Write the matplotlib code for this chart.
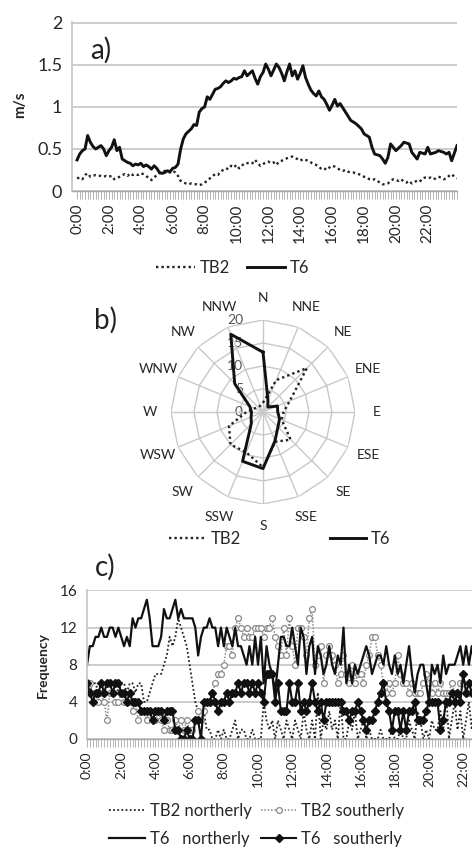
import numpy as np
import matplotlib
matplotlib.use("Agg")
import matplotlib.pyplot as plt
import matplotlib.transforms as mtransforms
from matplotlib.lines import Line2D

plt.rcParams['font.family'] = ['Lato', 'DejaVu Sans']

# ---- data ----
hour_labels = ["0:00", "2:00", "4:00", "6:00", "8:00", "10:00",
               "12:00", "14:00", "16:00", "18:00", "20:00", "22:00"]

# a) mean wind speed, 10 min steps (m/s)
speed_t6 = [
    0.37, 0.44, 0.48, 0.50, 0.66, 0.58, 0.53, 0.50, 0.52, 0.54,
    0.50, 0.42, 0.48, 0.52, 0.61, 0.48, 0.52, 0.38, 0.36, 0.34,
    0.33, 0.30, 0.32, 0.31, 0.33, 0.29, 0.31, 0.29, 0.26, 0.30,
    0.27, 0.22, 0.21, 0.22, 0.24, 0.23, 0.27, 0.28, 0.32, 0.50,
    0.62, 0.68, 0.71, 0.74, 0.79, 0.78, 0.94, 0.98, 1.00, 1.12,
    1.09, 1.15, 1.21, 1.22, 1.24, 1.28, 1.31, 1.29, 1.31, 1.34,
    1.33, 1.35, 1.36, 1.43, 1.37, 1.40, 1.43, 1.34, 1.27, 1.36,
    1.41, 1.51, 1.45, 1.37, 1.44, 1.51, 1.47, 1.40, 1.31, 1.42,
    1.51, 1.37, 1.43, 1.33, 1.40, 1.49, 1.35, 1.27, 1.20, 1.16,
    1.13, 1.19, 1.12, 1.09, 1.03, 0.96, 1.02, 1.09, 1.01, 1.04,
    0.99, 0.94, 0.89, 0.84, 0.82, 0.80, 0.77, 0.74, 0.68, 0.66,
    0.64, 0.52, 0.44, 0.43, 0.42, 0.38, 0.33, 0.40, 0.56, 0.52,
    0.48, 0.51, 0.54, 0.58, 0.57, 0.56, 0.46, 0.42, 0.38, 0.46,
    0.45, 0.44, 0.52, 0.44, 0.45, 0.46, 0.48, 0.47, 0.46, 0.44,
    0.46, 0.36, 0.45, 0.54]
speed_tb2 = [
    0.15, 0.16, 0.14, 0.19, 0.21, 0.17,
    0.18, 0.19, 0.18, 0.18, 0.17, 0.18, 0.17, 0.18, 0.14, 0.15, 0.17,
    0.19, 0.20, 0.18, 0.21, 0.19, 0.20, 0.19, 0.21, 0.20,
    0.18, 0.15, 0.13, 0.16,
    0.19, 0.21, 0.22, 0.24, 0.23, 0.22, 0.24,
    0.22, 0.18, 0.12, 0.10,
    0.09, 0.08, 0.09, 0.08, 0.08, 0.07,
    0.08, 0.10, 0.12,
    0.15, 0.18, 0.20, 0.19, 0.23, 0.25, 0.27, 0.26, 0.30,
    0.28, 0.31, 0.27, 0.30, 0.33, 0.33, 0.34, 0.33, 0.37, 0.33, 0.30,
    0.32, 0.34, 0.35, 0.33, 0.34, 0.31, 0.35, 0.36, 0.37,
    0.39, 0.40, 0.41, 0.39, 0.38, 0.36, 0.38, 0.37, 0.36,
    0.34, 0.32, 0.31, 0.29, 0.26, 0.27, 0.25, 0.28, 0.30,
    0.29, 0.27, 0.25, 0.24, 0.25, 0.23, 0.22, 0.22, 0.21, 0.20,
    0.19, 0.17, 0.16, 0.14, 0.13, 0.14, 0.12, 0.10, 0.08, 0.08,
    0.09, 0.12, 0.14, 0.13, 0.12, 0.14, 0.11, 0.10, 0.12,
    0.09, 0.11, 0.12, 0.11, 0.15, 0.16, 0.15, 0.16, 0.14, 0.15,
    0.17, 0.16, 0.14, 0.15, 0.18, 0.20, 0.17, 0.15]

# b) direction frequency
dirs = ["N", "NNE", "NE", "ENE", "E", "ESE", "SE", "SSE",
        "S", "SSW", "SW", "WSW", "W", "WNW", "NW", "NNW"]
rose_tb2 = [2, 7.5, 13.5, 6.3, 4.5, 4.4, 8.5, 7, 12, 9.5, 10, 8, 3.6, 2, 1.5, 1.5]
rose_t6 = [13, 2.8, 1.5, 3.4, 3.2, 3.9, 4.6, 6.8, 12.3, 11.6, 3.6, 2.8, 2.5, 3.1, 8.7, 18.3]

# c) frequency of northerly / southerly flow
freq_tb2_north = [
    6, 5, 6, 6, 5, 6, 6, 6, 6,
    6, 6, 5, 6, 6, 5, 6, 6,
    5, 6, 6, 4, 4, 5,
    6, 7, 7, 7, 8, 9, 11, 10,
    11, 13, 12, 11, 10, 8, 6, 4,
    3, 2, 3, 1, 1, 0, 0,
    1, 0, 1, 0, 0, 1, 2, 0, 1, 1, 0, 0, 1, 0, 0,
    0, 4, 2, 1, 2, 0, 2, 1, 0, 2,
    1, 0, 2, 1, 0, 3, 1, 0, 2, 0,
    5, 0, 2, 1, 3, 1, 2, 0, 4, 0,
    0, 2, 1, 3, 0, 1, 2, 0, 1, 0,
    0, 0, 1, 0, 0, 0, 1, 0, 0, 1,
    0, 0, 2, 1, 0, 3, 2, 0, 1, 0,
    2, 1, 1, 3, 1, 5, 0, 2, 4, 1,
    3, 0, 2, 4, 1, 5, 2, 3, 2, 4, 1, 3, 2]
freq_tb2_south = [
    6, 6, 5, 5, 4, 5, 4, 2, 5, 5,
    4, 4, 5, 4, 4, 4, 3, 4, 2, 3,
    3, 2, 3, 2, 2, 3, 2, 1, 2, 1,
    1, 2, 1, 2, 1, 2, 1, 1, 2, 3,
    2, 3, 4, 4, 5, 6, 7, 7, 8, 10,
    10, 9, 12, 13, 12, 11, 12, 11, 11, 12,
    12, 12, 11, 12, 12, 13, 11, 10, 9, 12,
    9, 13, 10, 8, 12, 12, 11, 9, 13, 14,
    8, 9, 10, 6, 9, 10, 9, 8, 6, 7,
    9, 7, 6, 8, 6, 7, 7, 6, 8, 9,
    11, 11, 9, 8, 6, 5, 6, 5, 6, 9,
    7, 6, 6, 5, 6, 5, 5, 5, 6, 7,
    6, 5, 6, 5, 6, 5, 5, 5, 6, 5,
    5, 6, 6, 5, 5, 6, 5, 4, 6, 5, 6, 5, 4, 5]
freq_t6_north = [
    8, 10, 10, 11, 11, 12, 11, 11, 12, 12,
    11, 12, 11, 10, 11, 10, 13, 12, 13, 13,
    14, 15, 13, 10, 10, 10, 11, 14, 13, 13,
    14, 15, 13, 14, 13, 13, 13, 13, 12, 9,
    11, 12, 12, 13, 12, 12, 10, 12, 10, 12,
    11, 10, 12, 10, 10, 9, 8, 10, 8, 11,
    8, 11, 6, 10, 8, 7, 5, 8, 11, 11,
    10, 10, 12, 10, 8, 12, 11, 7, 10, 11,
    7, 10, 9, 7, 8, 10, 8, 7, 9, 8,
    12, 6, 8, 6, 8, 7, 8, 9, 10, 9,
    7, 8, 9, 9, 8, 10, 8, 7, 9, 7,
    8, 6, 8, 10, 7, 5, 7, 8, 8, 6,
    4, 8, 7, 8, 6, 9, 7, 8, 8, 8,
    9, 10, 8, 10, 8, 10, 8, 10, 8, 10,
    8, 10, 8, 10]
freq_t6_south = [
    6, 5, 4, 5, 5, 6, 5, 6, 6, 5,
    6, 6, 5, 5, 4, 5, 4, 4, 4, 3,
    3, 3, 3, 2, 3, 3, 3, 2, 3, 3,
    3, 1, 1, 0, 0, 1, 0, 0, 2, 2,
    0, 4, 4, 4, 5, 4, 3, 4, 4, 5,
    4, 5, 5, 6, 5, 6, 6, 5, 6, 5,
    6, 5, 4, 7, 7, 7, 4, 6, 3, 3,
    3, 6, 4, 4, 6, 3, 4, 3, 4, 6,
    4, 3, 4, 2, 4, 4, 4, 4, 4, 4,
    3, 3, 2, 3, 3, 4, 3, 2, 1, 2,
    2, 3, 4, 5, 6, 4, 3, 1, 3, 3,
    1, 3, 1, 3, 3, 4, 2, 2, 2, 3,
    4, 4, 4, 4, 1, 2, 4, 4, 5, 4,
    5, 4, 7, 5, 6, 5, 6, 5, 6, 5,
    6, 5, 6, 5]

# ---- figure ----
W, H = 472, 849
fig = plt.figure(figsize=(W / 100, H / 100), dpi=100)


def px_axes(left, top, right, bottom, **kw):
    return fig.add_axes([left / W, 1 - bottom / H, (right - left) / W, (bottom - top) / H], **kw)


grid_c = '#c8c8c8'
txt_c = '#262626'


def style_line_axes(ax, ylabel_size, xlabel_size):
    ax.yaxis.grid(True, color=grid_c, lw=1.3)
    ax.set_axisbelow(True)
    for s in ['top', 'right']:
        ax.spines[s].set_visible(False)
    ax.spines['left'].set_color(grid_c)
    ax.spines['left'].set_linewidth(1.3)
    ax.spines['bottom'].set_color('#a8a8a8')
    ax.spines['bottom'].set_linewidth(1.0)
    ax.tick_params(axis='y', length=0, labelsize=ylabel_size, pad=7, labelcolor=txt_c)
    ax.set_xticks(range(0, 144, 12))
    ax.set_xticklabels(hour_labels, rotation=90, fontsize=xlabel_size, color=txt_c)
    ax.set_xticks(range(144), minor=True)
    ax.tick_params(axis='x', which='both', length=6, width=0.6, color='#a8a8a8',
                   direction='out', pad=3)


# a) wind speed
ax_a = px_axes(72, 22, 457, 191)
x = np.arange(len(speed_t6))
ax_a.plot(x, speed_tb2, color='#222222', lw=1.7, ls=(0, (1, 1.3)), label='TB2')
ax_a.plot(x, speed_t6, color='#111111', lw=2.1, label='T6')
ax_a.set_xlim(-1.9, 143)
ax_a.set_ylim(0, 2.01)
ax_a.set_yticks([0, 0.5, 1, 1.5, 2])
ax_a.set_yticklabels(['0', '0.5', '1', '1.5', '2'])
style_line_axes(ax_a, 13, 11)
ax_a.legend(loc='center', bbox_to_anchor=(233 / W, 1 - 268 / H), bbox_transform=fig.transFigure,
            ncol=2, frameon=False, handlelength=2.3, handletextpad=0.3, columnspacing=1.0,
            fontsize=12, labelcolor=txt_c)
fig.text(20 / W, 1 - 105 / H, 'm/s', rotation=90, fontsize=11, fontweight='bold',
         ha='center', va='center', color=txt_c)
fig.text(101 / W, 1 - 50 / H, 'a)', fontsize=20, ha='center', va='center', color='#222222')

# b) wind rose
ax_b = px_axes(171, 320, 355, 504, projection='polar')
theta = np.deg2rad(np.arange(len(dirs)) * 22.5)
theta_c = np.append(theta, theta[0])
ax_b.set_theta_zero_location('N')
ax_b.set_theta_direction(-1)
ax_b.set_ylim(0, 20)
ax_b.set_yticks([])
ax_b.spines['polar'].set_visible(False)
ax_b.set_thetagrids(np.arange(len(dirs)) * 22.5, dirs)
ax_b.xaxis.grid(True, color=grid_c, lw=1.0)
ax_b.tick_params(axis='x', labelsize=10, labelcolor=txt_c, pad=5)
for r in [5, 10, 15, 20]:
    ax_b.plot(theta_c, [r] * len(theta_c), color=grid_c, lw=1.0, zorder=0.8)
lab_tr = mtransforms.offset_copy(ax_b.transData, fig=fig, x=-20, y=0, units='dots')
for r in [0, 5, 10, 15, 20]:
    ax_b.text(0, r, str(r), transform=lab_tr, ha='right', va='center', fontsize=10,
              color='#555555', zorder=1)
ax_b.plot(theta_c, np.append(rose_tb2, rose_tb2[0]), color='#222222', lw=1.7,
          ls=(0, (1, 1.3)), zorder=3)
ax_b.plot(theta_c, np.append(rose_t6, rose_t6[0]), color='#111111', lw=2.1, zorder=3)
fig.legend([Line2D([], [], color='#222222', lw=1.7, ls=(0, (1, 1.3))),
            Line2D([], [], color='#111111', lw=2.1)], ['TB2', 'T6'],
           loc='center', bbox_to_anchor=(280 / W, 1 - 539 / H), ncol=2, frameon=False,
           handlelength=2.2, handletextpad=0.3, columnspacing=5.3, fontsize=12,
           labelcolor=txt_c)
fig.text(105 / W, 1 - 320 / H, 'b)', fontsize=20, ha='center', va='center', color='#222222')

# c) frequency
ax_c = px_axes(87, 590, 497, 739)
xc = np.arange(len(freq_t6_north))
h1, = ax_c.plot(xc, freq_tb2_north, color='#222222', lw=1.3, ls=(0, (1, 1.3)))
h2, = ax_c.plot(xc, freq_tb2_south, color='#8a8a8a', lw=1.1, ls=(0, (1, 1.2)),
                marker='o', ms=4.2, mfc='white', mec='#8a8a8a', mew=0.9)
h3, = ax_c.plot(xc, freq_t6_north, color='#111111', lw=1.6)
h4, = ax_c.plot(xc, freq_t6_south, color='#111111', lw=1.5, marker='D', ms=3.8,
                mfc='#111111', mec='#111111')
ax_c.set_xlim(0, 143.86)
ax_c.set_ylim(0, 16.05)
ax_c.set_yticks([0, 4, 8, 12, 16])
style_line_axes(ax_c, 11, 10)
fig.legend([h1, h3, h2, h4],
           ['TB2 northerly', 'T6   northerly', 'TB2 southerly', 'T6   southerly'],
           loc='center', bbox_to_anchor=(257 / W, 1 - 825 / H), ncol=2, frameon=False,
           handlelength=2.1, handletextpad=0.3, columnspacing=0.6, labelspacing=0.7,
           fontsize=12, labelcolor=txt_c)
fig.text(43 / W, 1 - 665 / H, 'Frequency', rotation=90, fontsize=10, fontweight='bold',
         ha='center', va='center', color=txt_c)
fig.text(105 / W, 1 - 567 / H, 'c)', fontsize=20, ha='center', va='center', color='#222222')

fig.savefig('out.png', dpi=100)
